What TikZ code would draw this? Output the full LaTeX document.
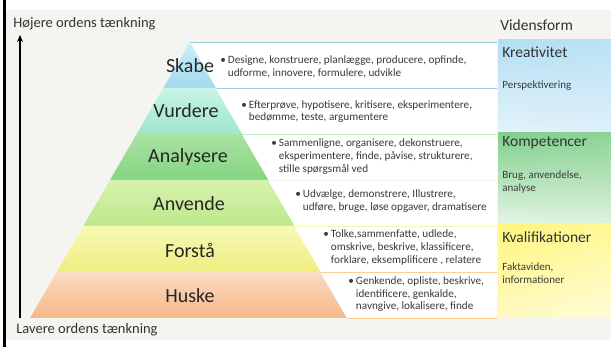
\documentclass[tikz,border=0pt]{standalone}
\usepackage{fontspec}
\setmainfont{Carlito}
\usetikzlibrary{arrows.meta,shadings}

\definecolor{baggrund}{HTML}{F4F4F1}
\definecolor{tekst}{HTML}{3A3A3A}
\newcommand{\punkt}[1]{\textbullet\hspace{2pt}\begin{tabular}[t]{@{}l@{}}#1\end{tabular}}

\begin{document}
\begin{tikzpicture}[x=1pt,y=-1pt,line width=0.8pt,>={Stealth[length=7pt,width=6pt]},
  niveau/.style={font=\fontsize{20}{22}\selectfont,text=black!85},
  punkter/.style={anchor=west,inner sep=0pt,font=\fontsize{11.2}{12.7}\selectfont,text=tekst},
  overskrift/.style={anchor=west,inner sep=0pt,font=\fontsize{15.5}{18}\selectfont,text=black!80},
  akse/.style={anchor=west,inner sep=0pt,font=\fontsize{14.5}{17}\selectfont,text=black!80},
  forklaring/.style={anchor=north west,inner sep=0pt,align=left,font=\fontsize{11}{13.5}\selectfont,text=tekst}]
  \useasboundingbox (0,0) rectangle (611,347);
  % baggrund
  \fill[white] (0,0) rectangle (611,347);
  \fill[baggrund] (6,10) rectangle (611,340);
  \fill[black] (3,0) rectangle (6,347);
  % Skabe
  \shade[top color={rgb,255:red,205;green,238;blue,248},bottom color={rgb,255:red,160;green,218;blue,240}] (190,42) -- (216.2,88) -- (163.3,88) -- cycle;
  \fill[white] (190,42) -- (497,42) -- (497,88) -- (216.2,88) -- cycle;
  \draw[cyan!35!teal!45] (190,42) -- (497,42); \draw[cyan!35!teal!45] (216.2,88) -- (497,88);
  \node[niveau] (skabe) at (190,66) {Skabe};
  \node[punkter] (skabetekst) at (220,67.5) {\punkt{Designe, konstruere, planlægge, producere, opfinde,\\udforme, innovere, formulere, udvikle}};
  % Vurdere
  \shade[top color={rgb,255:red,200;green,243;blue,228},bottom color={rgb,255:red,160;green,230;blue,205}] (163.3,88) -- (216.2,88) -- (242.3,134) -- (136.7,134) -- cycle;
  \fill[white] (216.2,89) -- (497,89) -- (497,134) -- (242.3,134) -- cycle;
  \draw[teal!25!green!30] (242.3,134) -- (497,134);
  \node[niveau] (vurdere) at (186,111) {Vurdere};
  \node[punkter] (vurderetekst) at (241,112) {\punkt{Efterprøve, hypotisere, kritisere, eksperimentere,\\bedømme, teste, argumentere}};
  % Analysere
  \shade[top color={rgb,255:red,170;green,227;blue,162},bottom color={rgb,255:red,132;green,212;blue,130}] (136.7,134) -- (242.3,134) -- (268.5,180) -- (110,180) -- cycle;
  \fill[white] (242.3,135) -- (497,135) -- (497,180) -- (268.5,180) -- cycle;
  \draw[green!40!black!10!white!70] (268.5,180) -- (497,180);
  \node[niveau] (analysere) at (188,157) {Analysere};
  \node[punkter] (analyseretekst) at (271,157) {\punkt{Sammenligne, organisere, dekonstruere,\\eksperimentere, finde, påvise, strukturere,\\stille spørgsmål ved}};
  % Anvende
  \shade[top color={rgb,255:red,214;green,242;blue,174},bottom color={rgb,255:red,190;green,232;blue,138}] (110,180) -- (268.5,180) -- (294.7,226) -- (83.3,226) -- cycle;
  \fill[white] (268.5,181) -- (497,181) -- (497,226) -- (294.7,226) -- cycle;
  \draw[yellow!70!lime!40] (294.7,226) -- (497,226);
  \node[niveau] (anvende) at (189,204) {Anvende};
  \node[punkter] (anvendetekst) at (295,201.5) {\punkt{Udvælge, demonstrere, Illustrere,\\udføre, bruge, løse opgaver, dramatisere}};
  % Forstå
  \shade[top color={rgb,255:red,249;green,249;blue,182},bottom color={rgb,255:red,238;green,238;blue,128}] (83.3,226) -- (294.7,226) -- (320.8,272) -- (56.7,272) -- cycle;
  \fill[white] (294.7,227) -- (497,227) -- (497,272) -- (320.8,272) -- cycle;
  \draw[orange!45] (320.8,272) -- (497,272);
  \node[niveau] (forstaa) at (190,250) {Forstå};
  \node[punkter] (forstaatekst) at (323,248) {\punkt{Tolke,sammenfatte, udlede,\\omskrive, beskrive, klassificere,\\forklare, eksemplificere , relatere}};
  % Huske
  \shade[top color={rgb,255:red,252;green,220;blue,194},bottom color={rgb,255:red,246;green,183;blue,136}] (56.7,272) -- (320.8,272) -- (347,318) -- (30,318) -- cycle;
  \fill[white] (320.8,273) -- (497,273) -- (497,318) -- (347,318) -- cycle;
  \draw[orange!45] (347,318) -- (497,318);
  \node[niveau] (huske) at (190,296) {Huske};
  \node[punkter] (husketekst) at (348,294.5) {\punkt{Genkende, opliste, beskrive,\\identificere, genkalde,\\navngive, lokalisere, finde}};
  % vidensform
  \shade[upper left={rgb,255:red,178;green,222;blue,242},upper right={rgb,255:red,186;green,226;blue,246},lower left={rgb,255:red,228;green,243;blue,250},lower right={rgb,255:red,222;green,240;blue,250}] (498,40) rectangle (611,133);
  \shade[upper left={rgb,255:red,128;green,207;blue,140},upper right={rgb,255:red,140;green,212;blue,150},lower left={rgb,255:red,228;green,245;blue,228},lower right={rgb,255:red,222;green,242;blue,222}] (498,133) rectangle (611,224);
  \shade[upper left={rgb,255:red,255;green,245;blue,126},upper right={rgb,255:red,255;green,248;blue,150},lower left={rgb,255:red,255;green,250;blue,190},lower right={rgb,255:red,255;green,252;blue,215}] (498,224) rectangle (611,317);
  \node[overskrift] (videnform) at (500,25) {Vidensform};
  \node[overskrift] (kreativitet) at (502,52) {Kreativitet};
  \node[forklaring] (perspektiv) at (502,80) {Perspektivering};
  \node[overskrift] (kompetencer) at (502,143) {Kompetencer};
  \node[forklaring] (brug) at (502,170) {Brug, anvendelse,\\analyse};
  \node[overskrift] (kvalifikationer) at (502,237) {Kvalifikationer};
  \node[forklaring] (fakta) at (502,262) {Faktaviden,\\informationer};
  % pil
  \coordinate (lav) at (20,318);
  \coordinate (hoej) at (20,35);
  \draw[->,line width=1.6pt] (lav) -- (hoej);
  \node[akse] (hoejere) at (13,24) {Højere ordens tænkning};
  \node[akse] (lavere) at (16,330) {Lavere ordens tænkning};
\end{tikzpicture}
\end{document}
